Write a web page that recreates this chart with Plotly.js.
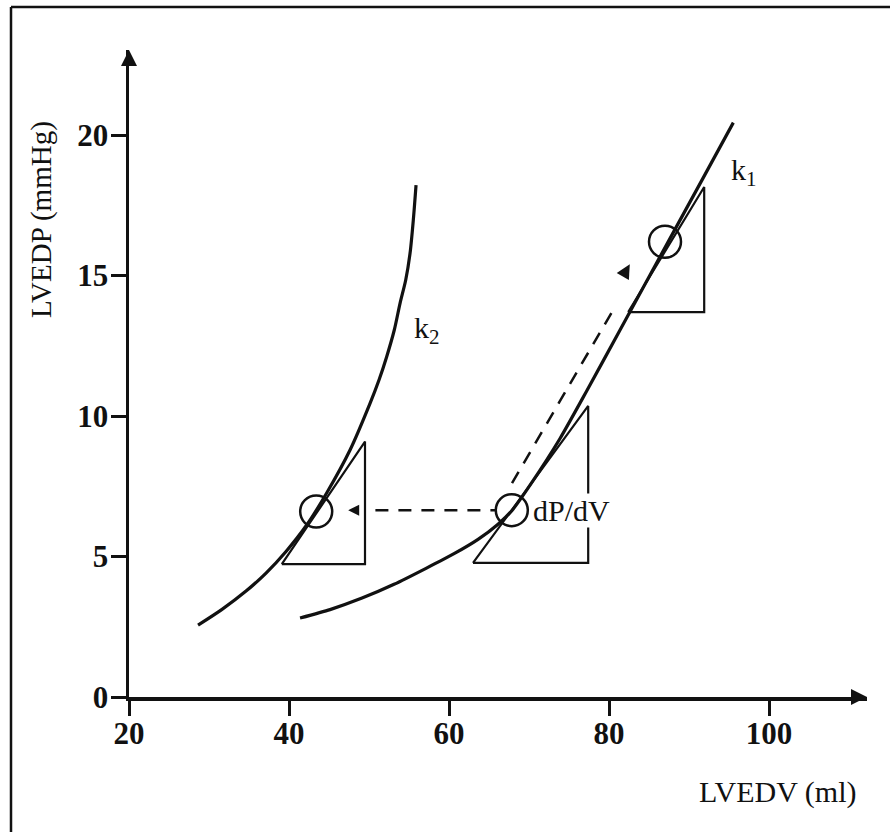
<!DOCTYPE html>
<html>
<head>
<meta charset="utf-8">
<script src="https://cdn.plot.ly/plotly-3.0.1.min.js"></script>
<style>
  html, body { margin: 0; padding: 0; background: #fff; }
  #chart { width: 890px; height: 832px; }
</style>
</head>
<body>
<div id="chart"></div>
<script>
// ---- data ----
const xTickVals = [20, 40, 60, 80, 100];
const yTickVals = [0, 5, 10, 15, 20];

// k1 curve (LVEDV ml, LVEDP mmHg)
const k1V = [41.38, 45.13, 49.13, 53.13, 57.13, 60.63, 63.63, 66.13, 67.88, 70.13, 73.88, 77.21, 81.38, 85.13, 91.38, 95.54];
const k1P = [2.81, 3.11, 3.52, 4.01, 4.58, 5.10, 5.61, 6.15, 6.64, 7.54, 9.20, 10.89, 13.06, 15.02, 18.27, 20.44];

// k2 curve
const k2V = [28.63, 31.63, 34.63, 37.13, 39.63, 42.21, 44.71, 47.63, 50.13, 51.25, 52.21, 53.16, 53.88, 54.59, 55.13, 55.54, 55.88];
const k2P = [2.56, 3.12, 3.77, 4.41, 5.18, 6.12, 7.26, 8.79, 10.45, 11.28, 12.11, 13.06, 14.01, 14.84, 15.79, 16.98, 18.22];

// tangent triangles (closed paths)
const triLeftV  = [39.1, 49.5, 49.5, 39.1];
const triLeftP  = [4.73, 4.73, 9.09, 4.73];
const triMidV   = [63.0, 77.4, 77.4, 63.0];
const triMidP   = [4.77, 4.77, 10.36, 4.77];
const triTopV   = [82.4, 91.9, 91.9, 82.4];
const triTopP   = [13.70, 13.70, 18.15, 13.70];

// operating points (circles)
const circV = [43.4, 67.85, 87.0];
const circP = [6.6, 6.65, 16.2];

// dashed shift arrows
const dashHV = [50.8, 66.0];
const dashHP = [6.65, 6.65];
const tipHV = [47.4];
const tipHP = [6.65];
const dashDV = [67.88, 80.88];
const dashDP = [7.61, 13.95];
const tipDV = [82.6];
const tipDP = [15.40];

// labels
const labelTexts = ['k<sub>1</sub>', 'k<sub>2</sub>', 'dP/dV'];
const labelV = [95.1, 55.5, 70.4];
const labelP = [18.68, 13.06, 6.65];

const xTitle = 'LVEDV (ml)';
const yTitle = 'LVEDP (mmHg)';

// ---- layout geometry ----
const W = 890, H = 832;
const M = { l: 129, r: 23, t: 50, b: 135 };
const pw = W - M.l - M.r, ph = H - M.t - M.b;
const xRange = [20, 20 + pw / 8.0];
const yRange = [0, ph / 28.1];
const px2paperX = px => (px - M.l) / pw;
const py2paperY = py => (H - M.b - py) / ph;

const serif = 'Liberation Serif';
const black = '#111';

const traces = [
  { x: k1V, y: k1P, mode: 'lines', line: { color: black, width: 3.2, shape: 'spline', smoothing: 0.6 }, cliponaxis: false },
  { x: k2V, y: k2P, mode: 'lines', line: { color: black, width: 3.2, shape: 'spline', smoothing: 0.8 }, cliponaxis: false },
  { x: triLeftV, y: triLeftP, mode: 'lines', line: { color: black, width: 2.2 } },
  { x: triMidV, y: triMidP, mode: 'lines', line: { color: black, width: 2.2 } },
  { x: triTopV, y: triTopP, mode: 'lines', line: { color: black, width: 2.2 } },
  { x: dashHV, y: dashHP, mode: 'lines', line: { color: black, width: 2.5, dash: '13px,10px' } },
  { x: dashDV, y: dashDP, mode: 'lines', line: { color: black, width: 2.5, dash: '13px,10px' } },
  { x: tipHV, y: tipHP, mode: 'markers', marker: { symbol: 'arrow-left', size: 11, color: black, line: { width: 0 } } },
  { x: tipDV, y: tipDP, mode: 'markers', marker: { symbol: 'arrow-up', size: 14, color: black, angle: 30, line: { width: 0 } } },
  { x: circV, y: circP, mode: 'markers', marker: { symbol: 'circle-open', size: 32, color: black, line: { width: 2.5, color: black } } },
  // axis arrowheads
  { x: [xRange[1]], y: [0], mode: 'markers', cliponaxis: false, marker: { symbol: 'arrow-right', size: 16, color: black, line: { width: 0 } } },
  { x: [20], y: [yRange[1]], mode: 'markers', cliponaxis: false, marker: { symbol: 'arrow-up', size: 16, color: black, line: { width: 0 } } }
];

const annotations = [];
for (let i = 0; i < labelTexts.length; i++) {
  annotations.push({
    x: labelV[i], y: labelP[i], xref: 'x', yref: 'y', text: labelTexts[i],
    showarrow: false, xanchor: 'left', yanchor: 'middle',
    font: { family: serif, size: 30, color: black },
    bgcolor: i === 2 ? '#fff' : 'rgba(0,0,0,0)', borderpad: 0
  });
}
// axis titles
annotations.push({ x: px2paperX(778), y: py2paperY(792), xref: 'paper', yref: 'paper', text: xTitle, showarrow: false,
  xanchor: 'center', yanchor: 'middle', font: { family: serif, size: 30, color: black } });
annotations.push({ x: px2paperX(41), y: py2paperY(220), xref: 'paper', yref: 'paper', text: yTitle, showarrow: false,
  textangle: -90, xanchor: 'center', yanchor: 'middle', font: { family: serif, size: 29, color: black } });

const shapes = [
  { type: 'line', xref: 'paper', yref: 'paper', x0: px2paperX(11), x1: px2paperX(891), y0: py2paperY(7), y1: py2paperY(7), line: { color: black, width: 2.5 } },
  { type: 'line', xref: 'paper', yref: 'paper', x0: px2paperX(11), x1: px2paperX(11), y0: py2paperY(7), y1: py2paperY(833), line: { color: black, width: 2.5 } }
];

const tickFont = { family: serif, size: 31, color: black, weight: 'bold' };

const layout = {
  width: W, height: H,
  margin: M,
  paper_bgcolor: '#fff', plot_bgcolor: '#fff',
  showlegend: false,
  xaxis: {
    range: xRange, tickmode: 'array', tickvals: xTickVals, ticktext: xTickVals.map(String),
    showline: true, linecolor: black, linewidth: 3.5, ticks: 'outside', ticklen: 15, tickwidth: 3, tickcolor: black,
    ticklabelstandoff: -9,
    showgrid: false, zeroline: false, tickfont: tickFont, fixedrange: true
  },
  yaxis: {
    range: yRange, tickmode: 'array', tickvals: yTickVals, ticktext: yTickVals.map(String),
    showline: true, linecolor: black, linewidth: 3.5, ticks: 'outside', ticklen: 15, tickwidth: 3, tickcolor: black,
    ticklabelstandoff: -4,
    showgrid: false, zeroline: false, tickfont: tickFont, fixedrange: true
  },
  annotations: annotations,
  shapes: shapes
};

Plotly.newPlot('chart', traces, layout, { displayModeBar: false, staticPlot: true });
</script>
</body>
</html>
